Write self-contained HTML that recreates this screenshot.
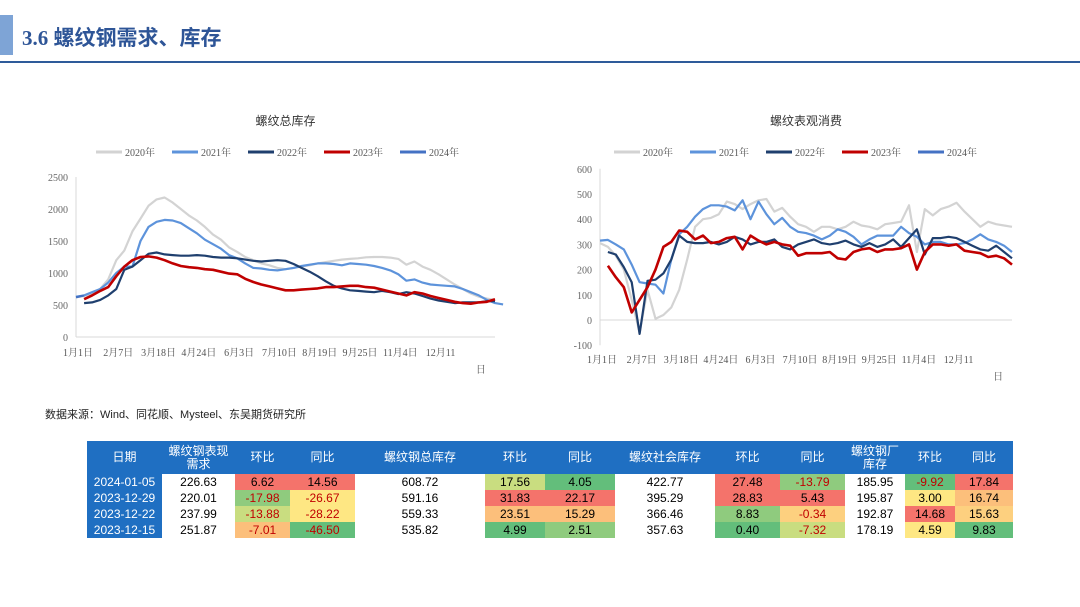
<!DOCTYPE html>
<html><head><meta charset="utf-8">
<style>
body{margin:0;width:1080px;height:607px;background:#fff;font-family:"Liberation Serif","Noto Serif CJK SC",serif;position:relative;overflow:hidden}
.hdr-bar{position:absolute;left:0;top:15px;width:13px;height:40px;background:#7ea4d6}
.title{position:absolute;left:22px;top:22px;font:bold 21px "Liberation Serif","Noto Sans CJK SC",sans-serif;color:#2e5597}
.rule{position:absolute;left:0;top:61px;width:1080px;height:2px;background:#2e5b9a}
.src{position:absolute;left:45px;top:406px;font:11px "Liberation Sans","Noto Sans CJK SC",sans-serif;color:#222}
table{position:absolute;left:87px;top:441px;border-collapse:collapse;font:12px "Liberation Sans","Noto Sans CJK SC",sans-serif;table-layout:fixed;width:926px}
th{background:#1f6fc2;color:#fff;font-weight:normal;height:33px;padding:0;line-height:13px}
td{height:16px;padding:0;text-align:center;line-height:16px;border:none}
td.d{background:#1f6fc2;color:#fff}
.R{background:#f4736b}.G{background:#63be7b}.LG{background:#8fcb7e}.YG{background:#c9dd80}.Y{background:#fee783}.O{background:#fcbf7b}.LO{background:#fdd07f}.n{color:#c00000}
</style></head><body>
<div class="hdr-bar"></div>
<div class="title">3.6 螺纹钢需求、库存</div>
<div class="rule"></div>
<svg id="c1" width="1080" height="400" style="position:absolute;left:0;top:0"></svg>
<div class="src">数据来源：Wind、同花顺、Mysteel、东吴期货研究所</div>
<table>
<colgroup><col style="width:75px"><col style="width:73px"><col style="width:55px"><col style="width:65px"><col style="width:130px"><col style="width:60px"><col style="width:70px"><col style="width:100px"><col style="width:65px"><col style="width:65px"><col style="width:60px"><col style="width:50px"><col style="width:58px"></colgroup>
<tr><th>日期</th><th>螺纹钢表现<br>需求</th><th>环比</th><th>同比</th><th>螺纹钢总库存</th><th>环比</th><th>同比</th><th>螺纹社会库存</th><th>环比</th><th>同比</th><th>螺纹钢厂<br>库存</th><th>环比</th><th>同比</th></tr>
<tr><td class="d">2024-01-05</td><td>226.63</td><td class="R">6.62</td><td class="R">14.56</td><td>608.72</td><td class="YG">17.56</td><td class="G">4.05</td><td>422.77</td><td class="R">27.48</td><td class="LG n">-13.79</td><td>185.95</td><td class="G n">-9.92</td><td class="R">17.84</td></tr>
<tr><td class="d">2023-12-29</td><td>220.01</td><td class="LG n">-17.98</td><td class="Y n">-26.67</td><td>591.16</td><td class="R">31.83</td><td class="R">22.17</td><td>395.29</td><td class="R">28.83</td><td class="R">5.43</td><td>195.87</td><td class="Y">3.00</td><td class="O">16.74</td></tr>
<tr><td class="d">2023-12-22</td><td>237.99</td><td class="YG n">-13.88</td><td class="Y n">-28.22</td><td>559.33</td><td class="O">23.51</td><td class="O">15.29</td><td>366.46</td><td class="LG">8.83</td><td class="LO n">-0.34</td><td>192.87</td><td class="R">14.68</td><td class="LO">15.63</td></tr>
<tr><td class="d">2023-12-15</td><td>251.87</td><td class="O n">-7.01</td><td class="G n">-46.50</td><td>535.82</td><td class="G">4.99</td><td class="LG">2.51</td><td>357.63</td><td class="G">0.40</td><td class="YG n">-7.32</td><td>178.19</td><td class="Y">4.59</td><td class="G">9.83</td></tr>
</table>
<script>
const xLabels=["1月1日","2月7日","3月18日","4月24日","6月3日","7月10日","8月19日","9月25日","11月4日","12月11"];
const years=["2020年","2021年","2022年","2023年","2024年"];
const colors=["#d3d3d3","#5d93db","#1f3f6e","#c00000","#4472c4"];
const invTicks=[0,500,1000,1500,2000,2500];
const inv2020=[620,640,680,750,900,1200,1350,1650,1850,2050,2150,2180,2100,2000,1900,1820,1720,1600,1520,1400,1330,1250,1200,1150,1120,1080,1060,1080,1100,1120,1150,1170,1190,1210,1220,1230,1245,1250,1250,1240,1220,1130,1180,1100,1050,980,900,820,750,680,630,600,580];
const inv2021=[630,650,700,750,850,1000,1100,1100,1500,1720,1800,1830,1820,1780,1700,1620,1520,1450,1380,1280,1230,1150,1080,1070,1050,1040,1060,1080,1110,1130,1150,1150,1140,1120,1150,1140,1130,1110,1080,1040,980,880,900,850,820,810,800,790,750,700,650,580,530,510];
const inv2022=[null,530,540,580,650,750,1050,1100,1200,1300,1320,1290,1280,1270,1270,1280,1270,1250,1240,1240,1230,1210,1190,1180,1190,1200,1190,1140,1080,1020,950,870,800,760,730,720,710,700,720,700,670,700,680,640,600,570,550,530,540,540,540,560,560];
const inv2023=[null,590,650,720,780,950,1100,1200,1250,1260,1240,1200,1150,1110,1090,1080,1060,1050,1020,990,980,910,860,820,790,760,730,730,740,750,760,780,780,790,800,800,780,770,740,710,680,650,700,680,640,610,580,550,530,520,540,550,590];
const inv2024=[620,650];
const conTicks=[-100,0,100,200,300,400,500,600];
const con2020=[305,290,255,200,80,-50,120,5,20,50,120,240,370,400,405,420,470,460,440,460,475,480,430,445,410,380,370,350,370,370,360,370,390,375,370,360,380,385,390,455,270,440,415,440,450,465,430,400,370,390,380,375,370];
const con2021=[315,318,300,280,220,150,145,140,105,240,340,370,410,440,455,455,450,435,475,400,470,420,380,405,370,350,345,335,320,335,360,350,330,300,320,335,335,335,370,345,330,300,310,310,300,300,305,320,340,320,310,295,270];
const con2022=[null,270,260,210,150,-55,155,160,185,240,335,310,305,305,310,300,310,330,320,300,310,310,320,290,280,300,310,320,305,300,305,315,300,290,305,290,300,320,290,325,360,260,325,325,330,325,310,295,280,275,295,270,245];
const con2023=[null,215,170,130,30,80,130,200,290,310,355,350,320,335,305,310,325,330,280,335,315,300,310,300,295,255,265,265,265,270,245,240,270,280,285,270,280,280,285,300,200,270,300,300,295,300,275,270,265,250,255,245,220];
const con2024=[null];

const svg=document.getElementById('c1');const NS='http://www.w3.org/2000/svg';
function mk(t,a,p){const e=document.createElementNS(NS,t);for(const k in a)e.setAttribute(k,a[k]);(p||svg).appendChild(e);return e;}
function chart(o){
  const g=mk('g',{});
  
  
  const y=v=>o.y0+(v-o.vmin)*(o.y1-o.y0)/(o.vmax-o.vmin);
  const step=(o.xr-o.xl)/52;const x=i=>o.xl+i*step;
  const t=mk('text',{x:(o.xl+o.xr)/2,y:o.titleY,'text-anchor':'middle','font-size':12,fill:'#333','font-family':'"Liberation Sans","Noto Sans CJK SC",sans-serif'},g);t.textContent=o.title;
  
  
  years.forEach((yr,i)=>{const lx=o.legX+i*76;
    const l=mk('g',{},g);
    
    
    mk('line',{x1:lx,x2:lx+26,y1:o.legY,y2:o.legY,stroke:colors[i],'stroke-width':3},l);
    const tt=mk('text',{x:lx+29,y:o.legY+4,'font-size':10,fill:'#555'},l);tt.textContent=yr;});
  mk('line',{x1:o.xl,x2:o.xl,y1:y(o.vmax),y2:y(o.vmin),stroke:'#d9d9d9'},g);
  mk('line',{x1:o.xl,x2:o.xr,y1:y(0),y2:y(0),stroke:'#d9d9d9'},g);
  o.ticks.forEach(v=>{const tt=mk('text',{x:o.xl-8,y:y(v)+4,'text-anchor':'end','font-size':10,fill:'#666'},g);tt.textContent=v;
    
    });
  xLabels.forEach((s,i)=>{const tt=mk('text',{x:x(i*5)+2,y:o.xlY,'text-anchor':'middle','font-size':10,fill:'#555'},g);tt.textContent=s;
    
    });
  const d2=mk('text',{x:x(45)+x(50)-x(45)+2,y:o.xlY+17,'text-anchor':'middle','font-size':10,fill:'#555'},g);d2.textContent='日';
  o.series.forEach((s,k)=>{let d='';let pen=false;s.forEach((v,i)=>{if(v==null){pen=false;return;}d+=(pen?'L':'M')+x(i).toFixed(1)+','+y(v).toFixed(1);pen=true;});
    if(!d)return;const p=mk('path',{d:d,fill:'none',stroke:colors[k],'stroke-width':k==3?2.6:2.2,'stroke-linejoin':'round'},g);
    
    });
}
chart({name:'inventory-chart-plot',title:'螺纹总库存',xl:76,xr:495,y0:337,y1:177,vmin:0,vmax:2500,ticks:invTicks,titleY:125,legX:96,legY:152,xlY:356,series:[inv2020,inv2021,inv2022,inv2023,inv2024]});
chart({name:'consumption-chart-plot',title:'螺纹表观消费',xl:600,xr:1012,y0:345.2,y1:168.8,vmin:-100,vmax:600,ticks:conTicks,titleY:125,legX:614,legY:152,xlY:363,series:[con2020,con2021,con2022,con2023,con2024]});
</script>
</body></html>
